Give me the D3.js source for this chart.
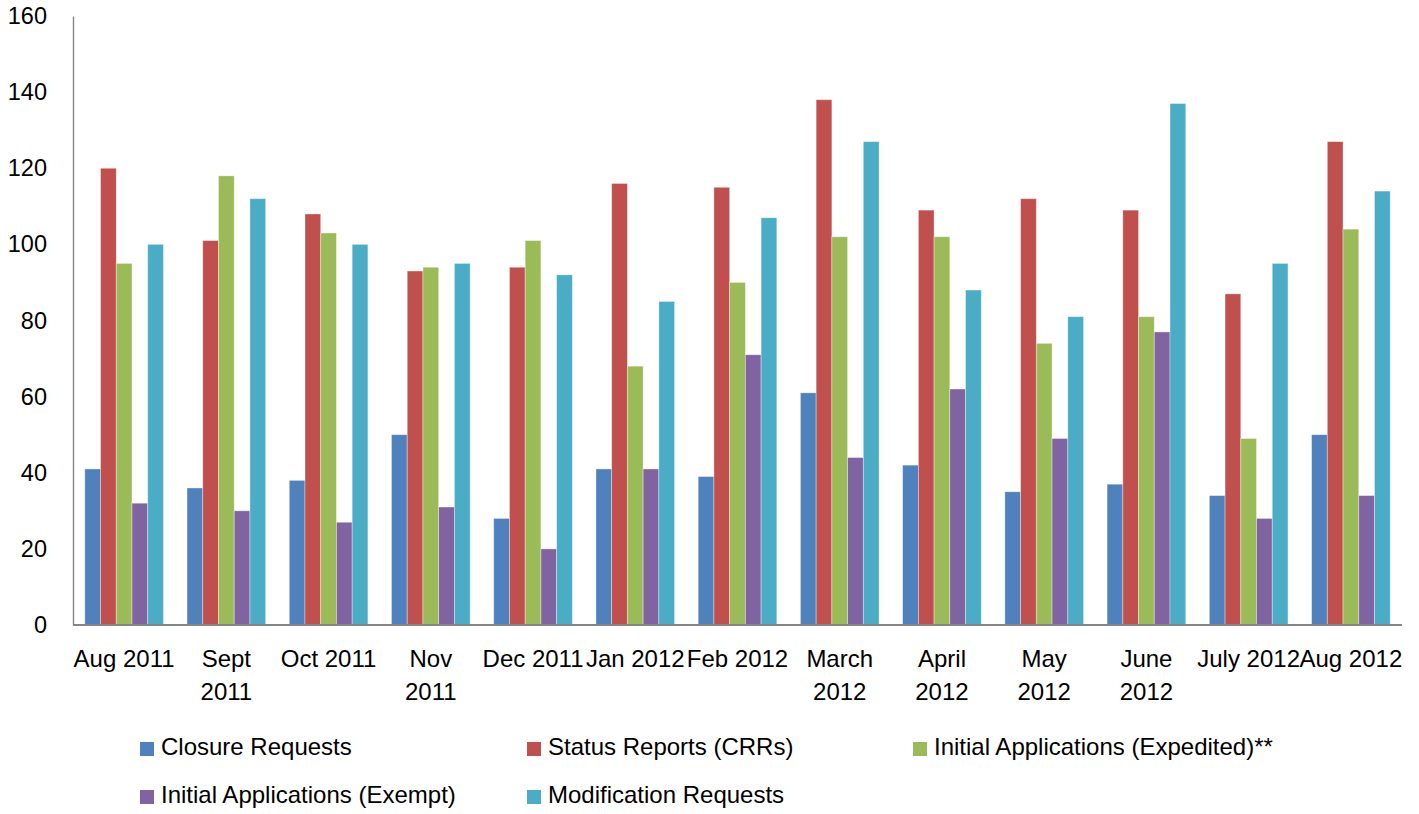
<!DOCTYPE html>
<html>
<head>
<meta charset="utf-8">
<script src="https://cdn.jsdelivr.net/npm/d3@7/dist/d3.min.js"></script>
<style>
  body { margin: 0; background: #fff; }
  text { font-family: "Liberation Sans", Arial, sans-serif; fill: #000; }
</style>
</head>
<body>
<div id="chart"></div>
<script>
// months on the x axis (each label split into its wrapped lines)
var months = ['Aug 2011', 'Sept 2011', 'Oct 2011', 'Nov 2011', 'Dec 2011', 'Jan 2012', 'Feb 2012',
  'March 2012', 'April 2012', 'May 2012', 'June 2012', 'July 2012', 'Aug 2012'];
var month_lines = [['Aug 2011'], ['Sept', '2011'], ['Oct 2011'], ['Nov', '2011'], ['Dec 2011'], ['Jan 2012'],
  ['Feb 2012'], ['March', '2012'], ['April', '2012'], ['May', '2012'], ['June', '2012'], ['July 2012'], ['Aug 2012']];

var series_names = ['Closure Requests', 'Status Reports (CRRs)', 'Initial Applications (Expedited)**',
  'Initial Applications (Exempt)', 'Modification Requests'];
var series_colors = ['#4F81BD', '#C0504D', '#9BBB59', '#8064A2', '#4BACC6'];

var closure_requests = [41, 36, 38, 50, 28, 41, 39, 61, 42, 35, 37, 34, 50];
var status_reports = [120, 101, 108, 93, 94, 116, 115, 138, 109, 112, 109, 87, 127];
var initial_expedited = [95, 118, 103, 94, 101, 68, 90, 102, 102, 74, 81, 49, 104];
var initial_exempt = [32, 30, 27, 31, 20, 41, 71, 44, 62, 49, 77, 28, 34];
var modification_requests = [100, 112, 100, 95, 92, 85, 107, 127, 88, 81, 137, 95, 114];

var y_ticks = [0, 20, 40, 60, 80, 100, 120, 140, 160];

var series_values = [closure_requests, status_reports, initial_expedited, initial_exempt, modification_requests];

var chart_width = 1419;
var chart_height = 814;
var plot = { left: 73, right: 1402, top: 16, bottom: 625 };

var svg = d3.select('#chart')
  .append('svg')
  .attr('width', chart_width)
  .attr('height', chart_height);

// scales: 150% gap width like the original
var x_scale = d3.scaleBand()
  .domain(months)
  .range([plot.left, plot.right])
  .paddingInner(1.5 / 6.5)
  .paddingOuter(0.75 / 6.5);

var x_inner = d3.scaleBand()
  .domain(d3.range(series_names.length))
  .range([0, x_scale.bandwidth()]);

var y_scale = d3.scaleLinear()
  .domain([0, 160])
  .range([plot.bottom, plot.top]);

// bars
var groups = svg.selectAll('g.series')
  .data(series_values)
  .enter()
  .append('g')
  .attr('class', 'series')
  .attr('fill', function(d, i) { return series_colors[i]; });

groups.each(function(vals, si) {
  d3.select(this).selectAll('rect')
    .data(vals)
    .enter()
    .append('rect')
    .attr('x', function(d, i) { return x_scale(months[i]) + x_inner(si); })
    .attr('y', function(d) { return y_scale(d); })
    .attr('width', x_inner.bandwidth())
    .attr('height', function(d) { return y_scale(0) - y_scale(d); })
    .attr('stroke', 'rgba(255,255,255,0.45)')
    .attr('stroke-width', 0.8);
});

// y axis
var y_axis = d3.axisLeft(y_scale)
  .tickValues(y_ticks)
  .tickSize(0)
  .tickPadding(26);
var y_g = svg.append('g')
  .attr('transform', 'translate(' + plot.left + ',0)')
  .call(y_axis);
y_g.select('.domain').attr('stroke', '#868686').attr('stroke-width', 1.4);
y_g.selectAll('text')
  .style('font-family', '"Liberation Sans", Arial, sans-serif')
  .style('font-size', '23.5px')
  .attr('fill', '#000');

// x axis
var x_axis = d3.axisBottom(x_scale).tickSize(0).tickFormat('');
var x_g = svg.append('g')
  .attr('transform', 'translate(0,' + plot.bottom + ')')
  .call(x_axis);
x_g.select('.domain')
  .attr('d', 'M' + plot.left + ',0H' + plot.right)
  .attr('stroke', '#868686')
  .attr('stroke-width', 2);

// x labels
var step = x_scale.step();
svg.selectAll('text.xlab')
  .data(months)
  .enter()
  .append('text')
  .attr('class', 'xlab')
  .attr('text-anchor', 'middle')
  .style('font-size', '24px')
  .each(function(d, i) {
    var cx = plot.left + step * (i + 0.5);
    d3.select(this).selectAll('tspan')
      .data(month_lines[i])
      .enter()
      .append('tspan')
      .attr('x', cx)
      .attr('y', function(l, j) { return 667 + j * 33; })
      .text(function(l) { return l; });
  });

// legend
var legend_pos = [[140, 742], [527, 742], [913, 742], [140, 790], [527, 790]];
var legend = svg.selectAll('g.legend')
  .data(series_names)
  .enter()
  .append('g')
  .attr('class', 'legend')
  .attr('transform', function(d, i) {
    return 'translate(' + legend_pos[i][0] + ',' + legend_pos[i][1] + ')';
  });
legend.append('rect')
  .attr('width', 14)
  .attr('height', 14)
  .attr('fill', function(d, i) { return series_colors[i]; });
legend.append('text')
  .attr('x', 21)
  .attr('y', 13)
  .style('font-size', '24px')
  .text(function(d) { return d; });
</script>
</body>
</html>
